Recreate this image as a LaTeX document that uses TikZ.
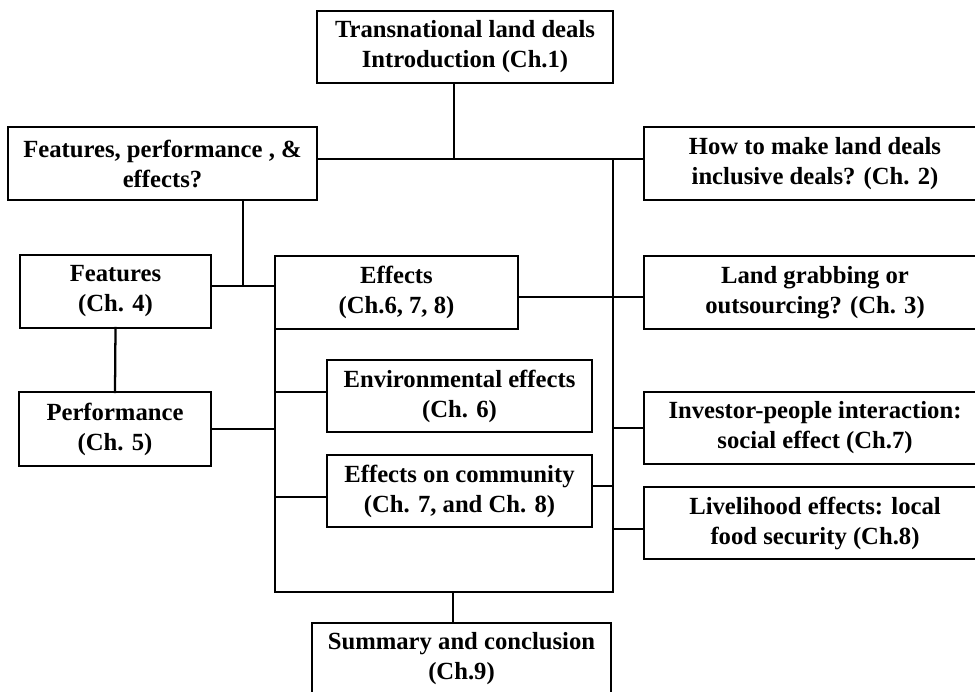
\documentclass[tikz,border=0pt]{standalone}
\usepackage{fontspec}
\setmainfont{Liberation Serif}
\begin{document}
\begin{tikzpicture}[x=0.75pt,y=-0.75pt,
  conn/.style={line width=1.7pt, line cap=rect},
  chbox/.style={draw, line width=1.7pt, align=center, inner sep=0pt, outer sep=0pt,
    font=\fontsize{18.5}{22.5}\selectfont\bfseries},
  wh/.style 2 args={minimum width=#1*0.75pt, minimum height=#2*0.75pt},
]
\clip (0,0) rectangle (975,692);

% chapter boxes
\node[chbox, wh={296}{72}] (intro) at (465,47) {Transnational land deals\\Introduction (Ch.1)};
\node[chbox, wh={309}{73}] (scope) at (162.5,163.5) {Features, performance , \&\\effects?};
\node[chbox, wh={342}{73}] (ch2) at (815,163.5) {How to make land deals\\inclusive deals? (Ch. 2)};
\node[chbox, wh={191}{73}] (feat) at (115.5,291.5) {Features\\(Ch. 4)};
\node[chbox, wh={243}{73}] (eff) at (396.5,292.5) {Effects\\(Ch.6, 7, 8)};
\node[chbox, wh={342}{73}] (ch3) at (815,292.5) {Land grabbing or\\outsourcing? (Ch. 3)};
\node[chbox, wh={265}{72}] (env) at (459.5,396) {Environmental effects\\(Ch. 6)};
\node[chbox, wh={192}{74}] (perf) at (115,429) {Performance\\(Ch. 5)};
\node[chbox, wh={342}{72}] (inv) at (815,428) {Investor-people interaction:\\social effect (Ch.7)};
\node[chbox, wh={265}{72}] (comm) at (459.5,491) {Effects on community\\(Ch. 7, and Ch. 8)};
\node[chbox, wh={342}{72}] (live) at (815,523) {Livelihood effects: local\\food security (Ch.8)};
\node[chbox, wh={299}{72}] (summ) at (461.5,659) {Summary and conclusion\\(Ch.9)};

% junction points
\coordinate (top) at (454,159);
\coordinate (rt) at (613,159);
\coordinate (rb) at (613,592);
\coordinate (lb) at (275,592);
\coordinate (fe) at (243,286);
\coordinate (sj) at (453,592);
\coordinate (er) at (613,297);

% connectors
\draw[conn] (intro.south -| top) -- (top);
\draw[conn] (scope.east |- top) -- (ch2.west |- top);
\draw[conn] (rt) -- (rb) -- (lb) -- (eff.south west);
\draw[conn] (scope.south -| fe) -- (fe);
\draw[conn] (feat.east |- fe) -- (eff.west |- fe);
\draw[conn] (feat.south) -- (perf.north);
\draw[conn] (perf.east) -- (perf.east -| lb);
\draw[conn] ([yshift=3pt]env.west) -- ([yshift=3pt]env.west -| lb);
\draw[conn] ([yshift=-4.5pt]comm.west) -- ([yshift=-4.5pt]comm.west -| lb);
\draw[conn] (eff.east |- er) -- (ch3.west |- er);
\draw[conn] ([yshift=3.75pt]comm.east) -- ([yshift=3.75pt]comm.east -| rt);
\draw[conn] (inv.west) -- (inv.west -| rt);
\draw[conn] ([yshift=-4.5pt]live.west) -- ([yshift=-4.5pt]live.west -| rt);
\draw[conn] (sj) -- (summ.north -| sj);
\end{tikzpicture}
\end{document}
